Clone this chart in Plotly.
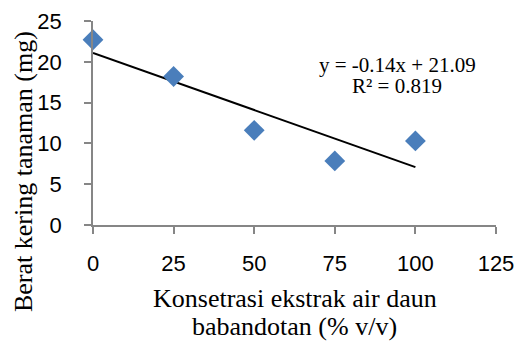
import plotly.graph_objects as go

konsentrasi = [0, 25, 50, 75, 100]
berat_kering = [22.7, 18.2, 11.6, 7.85, 10.3]
slope = -0.14
intercept = 21.09
r2 = 0.819
x_ticks = [0, 25, 50, 75, 100, 125]
y_ticks = [0, 5, 10, 15, 20, 25]

trend_x = [min(konsentrasi), max(konsentrasi)]
trend_y = [slope * v + intercept for v in trend_x]

fig = go.Figure()
fig.add_trace(go.Scatter(x=trend_x, y=trend_y, mode="lines",
                         line=dict(color="black", width=2), showlegend=False,
                         cliponaxis=False))
fig.add_trace(go.Scatter(x=konsentrasi, y=berat_kering, mode="markers",
                         marker=dict(symbol="diamond", size=16, color="#4A7EBB",
                                     line=dict(width=0)),
                         showlegend=False, cliponaxis=False))

axis_common = dict(showgrid=False, zeroline=False, showline=True, linecolor="#868686",
                   linewidth=1.5, ticks="outside", ticklen=7, tickcolor="#868686",
                   tickwidth=1.5, automargin=False,
                   tickfont=dict(family="Liberation Sans", size=22, color="black"))

fig.update_xaxes(range=[0, 125], tickvals=x_ticks, ticklabelstandoff=11, **axis_common)
fig.update_yaxes(range=[0, 25], tickvals=y_ticks, ticklabelstandoff=18, **axis_common)

eq_font = dict(family="Liberation Serif", size=21, color="black")
fig.add_annotation(x=94.4, y=19.6, xref="x", yref="y",
                   text=f"y = {slope}x + {intercept}", showarrow=False, font=eq_font)
fig.add_annotation(x=94.4, y=17.05, xref="x", yref="y",
                   text=f"R² = {r2}", showarrow=False, font=eq_font)

title_font = dict(family="Liberation Serif", size=26, color="black")
fig.add_annotation(x=0.5, y=-0.36, xref="paper", yref="paper", yanchor="middle",
                   text="Konsetrasi ekstrak air daun", showarrow=False, font=title_font)
fig.add_annotation(x=0.5, y=-0.497, xref="paper", yref="paper", yanchor="middle",
                   text="babandotan (% v/v)", showarrow=False, font=title_font)
fig.add_annotation(x=-0.171, y=0.26, xref="paper", yref="paper", xanchor="center",
                   yanchor="middle", textangle=-90,
                   text="Berat kering tanaman (mg)", showarrow=False, font=title_font)

fig.update_layout(width=518, height=343, margin=dict(l=93, r=22, t=21, b=118),
                  plot_bgcolor="white", paper_bgcolor="white")
fig.write_html("out.html", post_script="document.body.style.margin='0';",
               config={"displayModeBar": False})
